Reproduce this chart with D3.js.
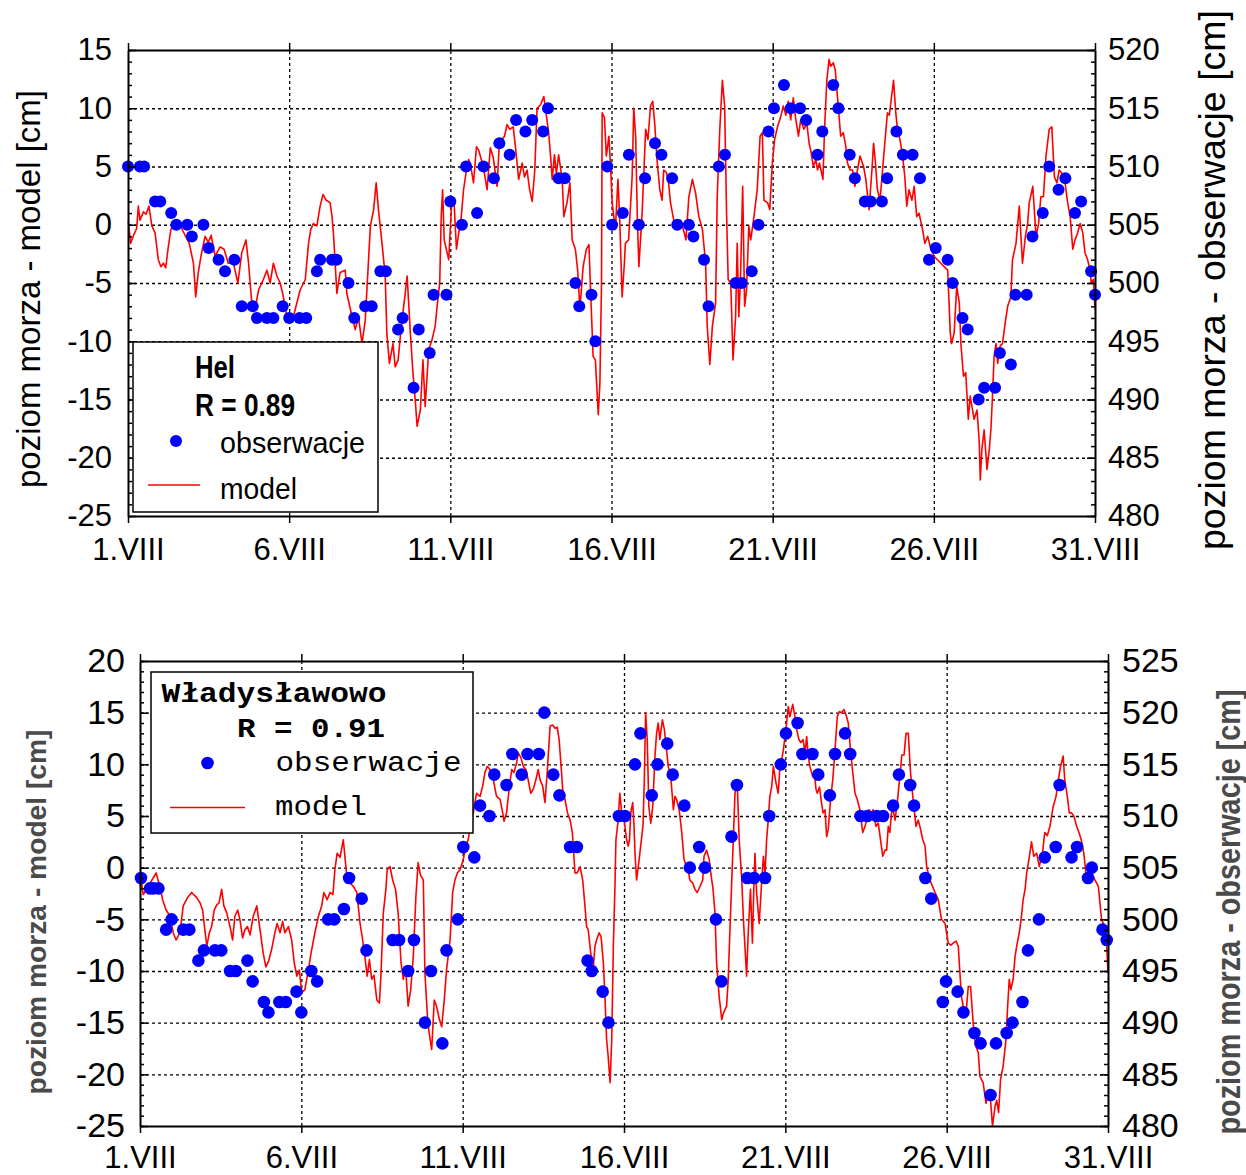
<!DOCTYPE html>
<html>
<head>
<meta charset="utf-8">
<script src="https://cdn.jsdelivr.net/npm/d3@7"></script>
<style>
  body { margin: 0; background: #fff; }
  text { font-family: "Liberation Sans", Arial, sans-serif; }
</style>
</head>
<body>
<svg id="chart" width="1246" height="1175"></svg>
<script>
// ---- shared axis values ----
const dayTicks = [1, 6, 11, 16, 21, 26, 31];
const dayLabels = ["1.VIII", "6.VIII", "11.VIII", "16.VIII", "21.VIII", "26.VIII", "31.VIII"];

// ---- Hel ----
const helLeftTicks = [15, 10, 5, 0, -5, -10, -15, -20, -25];
const helRightTicks = [520, 515, 510, 505, 500, 495, 490, 485, 480];
const helObsDay = [1.0, 1.37, 1.5, 1.84, 2.0, 2.34, 2.5, 2.84, 2.98, 3.34,
  3.5, 3.81, 4.01, 4.3, 4.53, 4.87, 5.0, 5.31, 5.51, 5.8,
  6.0, 6.32, 6.53, 6.86, 6.96, 7.33, 7.47, 7.84, 8.02, 8.36,
  8.56, 8.83, 9.0, 9.38, 9.52, 9.86, 10.02, 10.36, 10.48, 10.88,
  11.0, 11.36, 11.49, 11.83, 12.03, 12.35, 12.52, 12.84, 13.04, 13.33,
  13.54, 13.88, 14.03, 14.36, 14.55, 14.88, 15.0, 15.38, 15.5, 15.87,
  16.02, 16.35, 16.54, 16.85, 17.04, 17.35, 17.55, 17.88, 18.04, 18.4,
  18.54, 18.87, 19.01, 19.33, 19.52, 19.85, 20.04, 20.35, 20.56, 20.87,
  21.04, 21.35, 21.56, 21.85, 22.04, 22.39, 22.54, 22.88, 23.04, 23.39,
  23.55, 23.86, 24.04, 24.39, 24.55, 24.84, 25.04, 25.34, 25.57, 25.85,
  26.06, 26.43, 26.58, 26.89, 27.05, 27.39, 27.56, 27.9, 28.05, 28.39,
  28.53, 28.88, 29.06, 29.38, 29.58, 29.87, 30.08, 30.38, 30.57, 30.88, 31.0];
const helObsVal = [5, 5, 5, 2, 2, 1, 0, 0, -1, 0,
  -2, -3, -4, -3, -7, -7, -8, -8, -8, -7,
  -8, -8, -8, -4, -3, -3, -3, -5, -8, -7,
  -7, -4, -4, -9, -8, -14, -9, -11, -6, -6,
  2, 0, 5, 1, 5, 4, 7, 6, 9, 8,
  9, 8, 10, 4, 4, -5, -7, -6, -10, 5,
  0, 1, 6, 0, 4, 7, 6, 4, 0, 0,
  -1, -3, -7, 5, 6, -5, -5, -4, 0, 8,
  10, 12, 10, 10, 9, 6, 8, 12, 10, 6,
  4, 2, 2, 2, 4, 8, 6, 6, 4, -3,
  -2, -3, -5, -8, -9, -15, -14, -14, -11, -12,
  -6, -6, -1, 1, 5, 3, 4, 1, 2, -4, -6];
const helModelDay = [1.01, 1.08, 1.16, 1.27, 1.32, 1.37, 1.48, 1.56, 1.65, 1.74, 1.84, 1.94, 2.02, 2.10, 2.17, 2.25, 2.33, 2.41, 2.53, 2.61,
  2.77, 2.90, 3.03, 3.10, 3.18, 3.27, 3.39, 3.49, 3.58, 3.70, 3.86, 3.98, 4.11, 4.27, 4.41, 4.53, 4.66, 4.74, 4.84, 4.94,
  5.05, 5.20, 5.31, 5.41, 5.51, 5.62, 5.72, 5.80, 5.93, 6.03, 6.13, 6.34, 6.50, 6.60, 6.67, 6.75, 6.86, 6.96, 7.05, 7.15,
  7.27, 7.33, 7.38, 7.48, 7.58, 7.74, 7.79, 7.95, 8.05, 8.15, 8.26, 8.36, 8.52, 8.62, 8.70, 8.77, 8.88, 8.98, 9.03, 9.11,
  9.22, 9.29, 9.38, 9.48, 9.60, 9.66, 9.76, 9.84, 9.91, 9.97, 10.07, 10.15, 10.22, 10.33, 10.43, 10.53, 10.59, 10.67, 10.72, 10.76,
  10.81, 10.95, 11.05, 11.12, 11.19, 11.25, 11.33, 11.41, 11.50, 11.57, 11.64, 11.72, 11.81, 11.88, 11.96, 12.03, 12.14, 12.24, 12.33, 12.45,
  12.52, 12.68, 12.76, 12.84, 12.95, 13.02, 13.12, 13.23, 13.30, 13.38, 13.46, 13.54, 13.62, 13.69, 13.80, 13.90, 13.95, 14.05, 14.11, 14.16,
  14.23, 14.29, 14.36, 14.47, 14.52, 14.62, 14.71, 14.78, 14.88, 14.95, 15.02, 15.12, 15.22, 15.30, 15.35, 15.43, 15.50, 15.59, 15.64, 15.69,
  15.71, 15.78, 15.84, 15.92, 15.97, 16.02, 16.12, 16.20, 16.25, 16.33, 16.40, 16.43, 16.53, 16.64, 16.69, 16.75, 16.80, 16.85, 16.95, 17.06,
  17.13, 17.21, 17.28, 17.34, 17.42, 17.50, 17.57, 17.62, 17.70, 17.76, 17.83, 17.93, 18.04, 18.14, 18.23, 18.31, 18.40, 18.51, 18.61, 18.71,
  18.82, 18.92, 18.97, 19.05, 19.13, 19.23, 19.28, 19.36, 19.44, 19.51, 19.57, 19.62, 19.70, 19.77, 19.85, 19.90, 19.95, 20.00, 20.07, 20.13,
  20.19, 20.26, 20.32, 20.42, 20.52, 20.61, 20.68, 20.73, 20.84, 20.91, 20.99, 21.06, 21.15, 21.25, 21.33, 21.41, 21.48, 21.56, 21.64, 21.71,
  21.80, 21.87, 21.97, 22.06, 22.13, 22.18, 22.26, 22.34, 22.39, 22.45, 22.56, 22.61, 22.68, 22.75, 22.80, 22.88, 22.94, 23.01, 23.06, 23.11,
  23.19, 23.27, 23.32, 23.40, 23.48, 23.55, 23.63, 23.71, 23.82, 23.89, 23.99, 24.08, 24.13, 24.18, 24.25, 24.33, 24.41, 24.46, 24.56, 24.62,
  24.75, 24.82, 24.87, 24.95, 25.03, 25.10, 25.16, 25.23, 25.32, 25.39, 25.47, 25.54, 25.65, 25.72, 25.81, 25.91, 26.01, 26.11, 26.22, 26.32,
  26.43, 26.51, 26.55, 26.63, 26.71, 26.79, 26.84, 26.92, 26.99, 27.07, 27.13, 27.20, 27.25, 27.34, 27.41, 27.44, 27.49, 27.56, 27.65, 27.72,
  27.77, 27.82, 27.87, 27.93, 27.98, 28.06, 28.13, 28.20, 28.29, 28.39, 28.44, 28.55, 28.65, 28.75, 28.84, 28.91, 28.96, 29.07, 29.17, 29.25,
  29.32, 29.40, 29.48, 29.58, 29.66, 29.74, 29.82, 29.89, 29.98, 30.05, 30.15, 30.23, 30.31, 30.38, 30.46, 30.54, 30.62, 30.69, 30.77, 30.85,
  30.88, 30.95, 31.00];
const helModelVal = [0.3, -1.6, -1.0, -0.3, 1.6, 0.4, 1.1, 0.9, 1.6, -0.1, -0.7, -3.0, -3.6, -3.3, -3.7, -1.9, -0.4, -0.1, -0.4, 0,
  -0.9, -1.6, -3.3, -6.2, -4.1, -2.6, -1.0, -1.5, -0.9, -2.7, -1.9, -2.1, -3.3, -3.3, -5.0, -2.4, -1.3, -3.3, -6.7, -7.3,
  -5.6, -4.7, -3.9, -5.0, -3.3, -4.4, -5.0, -5.9, -7.9, -8.3, -7.9, -5.6, -4.7, -1.6, -0.4, 0.1, -0.1, 1.6, 2.6, 2.1,
  1.9, 0.7, -1.0, -5.9, -4.1, -3.9, -5.9, -7.9, -9.0, -7.9, -10.2, -8.2, -0.1, 1.3, 3.6, 1.3, -1.6, -4.4, -9.3, -11.9,
  -10.2, -12.2, -11.6, -8.7, -5.9, -4.4, -9.3, -12.7, -15.0, -17.3, -15.9, -11.6, -15.6, -10.7, -9.9, -8.7, -7.0, -5.0, 0.9, 3.0,
  -1.3, -3.0, 2.4, 1.7, -2.1, -0.9, 0.4, 3.0, 4.7, 5.6, 4.9, 3.6, 6.7, 6.4, 5.6, 4.9, 3.0, 6.6, 5.8, 3.3,
  7.0, 7.6, 8.6, 8.2, 8.4, 6.7, 3.9, 5.3, 4.1, 4.7, 3.0, 2.0, 4.7, 10.0, 10.3, 11.0, 10.0, 7.9, 5.9, 3.9,
  6.0, 4.4, 6.0, 3.9, 0.7, 1.9, 3.6, -1.3, -2.1, -3.9, -7.2, -3.6, -2.1, -1.7, -5.6, -11.3, -11.6, -16.3, -13.6, -5.0,
  9.6, 9.2, 5.9, 7.6, 5.0, 1.9, -0.4, 3.9, 0.9, -6.2, -3.3, -1.6, -1.3, 4.1, 10.0, 7.6, 0.7, -3.6, 1.0, 8.2,
  7.3, 10.2, 10.6, 8.7, 5.3, 3.0, 2.1, 4.7, 4.5, 3.9, 1.9, 0.4, -0.1, 0.4, -0.4, -1.3, 2.4, 3.9, 2.7, 0.7,
  -0.4, -3.3, -8.7, -12.0, -8.7, -6.7, 2.4, 8.2, 12.4, 10.2, 1.0, -4.7, -5.0, -11.6, -7.9, -1.6, -7.9, -4.7, 3.3, -7.0,
  -5.6, -0.1, -1.3, 0.7, 3.0, 7.6, 7.9, 2.1, 1.9, 1.3, 5.3, 7.3, 8.4, 9.3, 10.2, 9.4, 10.6, 9.0, 10.9, 9.2,
  7.6, 9.0, 8.2, 8.7, 7.0, 6.4, 5.0, 5.6, 4.7, 5.3, 3.9, 8.2, 12.4, 14.2, 13.6, 13.9, 13.3, 11.0, 9.3, 7.6,
  7.9, 6.7, 5.3, 4.7, 4.7, 3.3, 4.7, 5.9, 5.0, 3.9, 1.3, 4.7, 7.0, 5.6, 3.0, 2.1, 4.7, 6.4, 9.6, 9.4,
  12.4, 9.6, 8.2, 7.3, 5.9, 4.1, 1.6, 3.0, 2.1, 3.3, 0.7, 1.0, -0.4, -1.6, -1.0, -2.1, -2.7, -3.0, -3.3, -3.6,
  -3.9, -9.3, -10.2, -9.3, -5.3, -6.7, -10.2, -13.0, -12.7, -16.7, -14.7, -15.9, -16.7, -15.9, -18.7, -21.9, -19.3, -17.6, -21.0, -19.3,
  -17.6, -14.7, -11.3, -10.2, -11.9, -10.4, -10.2, -8.7, -7.0, -6.2, -3.0, -1.6, 1.6, -3.3, -1.0, 0.1, 1.9, 3.3, -1.0, 0.1,
  2.4, 2.4, 5.9, 8.2, 8.4, 4.1, 3.6, 4.7, 4.4, 4.1, 1.9, 0.7, -2.1, -1.3, -0.7, 0.1, -0.7, -2.4, -3.0, -3.9,
  -5.0, -4.7, -7.3];

// ---- Wladyslawowo ----
const wlaLeftTicks = [20, 15, 10, 5, 0, -5, -10, -15, -20, -25];
const wlaRightTicks = [525, 520, 515, 510, 505, 500, 495, 490, 485, 480];
const wlaObsDay = [1.03, 1.31, 1.41, 1.57, 1.81, 1.98, 2.34, 2.53, 2.81, 2.98,
  3.32, 3.52, 3.79, 3.97, 4.33, 4.49, 4.84, 4.98, 5.32, 5.52,
  5.85, 6.0, 6.31, 6.49, 6.83, 7.02, 7.32, 7.48, 7.87, 8.02,
  8.83, 9.03, 9.31, 9.49, 9.83, 10.02, 10.37, 10.5, 10.85, 11.02,
  11.36, 11.54, 11.83, 11.98, 12.36, 12.54, 12.83, 13.01, 13.36, 13.53,
  13.81, 14.0, 14.33, 14.54, 14.87, 15.0, 15.34, 15.52, 15.84, 16.03,
  16.34, 16.51, 16.86, 17.04, 17.34, 17.51, 17.87, 18.04, 18.33, 18.51,
  18.85, 19.02, 19.33, 19.5, 19.82, 20.03, 20.37, 20.5, 20.86, 21.02,
  21.38, 21.53, 21.84, 22.02, 22.38, 22.54, 22.85, 23.01, 23.33, 23.54,
  23.83, 24.03, 24.34, 24.52, 24.87, 24.99, 25.34, 25.52, 25.88, 25.98,
  26.34, 26.52, 26.86, 27.05, 27.36, 27.53, 27.86, 28.04, 28.35, 28.52,
  28.86, 29.04, 29.38, 29.5, 29.87, 30.04, 30.38, 30.5, 30.83, 30.96];
const wlaObsVal = [-1, -2, -2, -2, -6, -5, -6, -6, -9, -8,
  -8, -8, -10, -10, -9, -11, -13, -14, -13, -13,
  -12, -14, -10, -11, -5, -5, -4, -1, -3, -8,
  -7, -7, -10, -7, -15, -10, -17, -8, -5, 2,
  1, 6, 5, 9, 8, 11, 9, 11, 11, 15,
  9, 7, 2, 2, -9, -10, -12, -15, 5, 5,
  10, 13, 7, 10, 12, 9, 6, 0, 2, 0,
  -5, -11, 3, 8, -1, -1, -1, 5, 10, 13,
  14, 11, 11, 9, 7, 11, 13, 11, 5, 5,
  5, 5, 6, 9, 8, 6, -1, -3, -13, -11,
  -12, -14, -16, -17, -22, -17, -16, -15, -13, -8,
  -5, 1, 2, 8, 1, 2, -1, 0, -6, -7];
const wlaModelDay = [1.00, 1.05, 1.10, 1.21, 1.31, 1.41, 1.50, 1.56, 1.62, 1.70, 1.81, 1.93, 2.03, 2.12, 2.20, 2.26, 2.34, 2.47, 2.60, 2.76,
  2.86, 2.94, 3.01, 3.07, 3.15, 3.22, 3.30, 3.38, 3.45, 3.53, 3.60, 3.69, 3.79, 3.87, 3.94, 4.03, 4.10, 4.18, 4.25, 4.33,
  4.41, 4.51, 4.62, 4.72, 4.82, 4.90, 4.98, 5.08, 5.18, 5.25, 5.34, 5.42, 5.49, 5.60, 5.70, 5.78, 5.86, 5.94, 6.01, 6.11,
  6.22, 6.30, 6.42, 6.53, 6.63, 6.70, 6.80, 6.89, 6.98, 7.04, 7.11, 7.20, 7.30, 7.35, 7.42, 7.61, 7.72, 7.82, 7.90, 7.97,
  8.04, 8.11, 8.18, 8.25, 8.34, 8.42, 8.47, 8.54, 8.62, 8.66, 8.75, 8.83, 8.92, 9.00, 9.09, 9.16, 9.23, 9.31, 9.39, 9.47,
  9.55, 9.62, 9.69, 9.78, 9.83, 9.92, 9.99, 10.04, 10.12, 10.19, 10.28, 10.35, 10.43, 10.50, 10.61, 10.69, 10.76, 10.84, 10.92, 11.02,
  11.10, 11.17, 11.25, 11.33, 11.38, 11.43, 11.54, 11.62, 11.69, 11.76, 11.85, 11.95, 12.05, 12.16, 12.24, 12.28, 12.36, 12.44, 12.52, 12.59,
  12.67, 12.72, 12.80, 12.88, 12.96, 13.03, 13.11, 13.19, 13.27, 13.34, 13.40, 13.48, 13.55, 13.62, 13.71, 13.79, 13.86, 13.93, 13.99, 14.05,
  14.10, 14.17, 14.25, 14.33, 14.40, 14.48, 14.55, 14.64, 14.72, 14.79, 14.84, 14.89, 14.97, 15.05, 15.10, 15.15, 15.23, 15.29, 15.36, 15.41,
  15.46, 15.51, 15.57, 15.62, 15.67, 15.72, 15.75, 15.82, 15.87, 15.93, 15.98, 16.03, 16.08, 16.13, 16.17, 16.21, 16.27, 16.31, 16.34, 16.39,
  16.47, 16.55, 16.59, 16.63, 16.67, 16.72, 16.77, 16.83, 16.89, 16.96, 17.01, 17.06, 17.11, 17.19, 17.25, 17.32, 17.37, 17.45, 17.53, 17.58,
  17.63, 17.71, 17.79, 17.86, 17.94, 17.99, 18.04, 18.13, 18.20, 18.27, 18.36, 18.44, 18.48, 18.56, 18.64, 18.69, 18.76, 18.82, 18.87, 18.95,
  19.03, 19.08, 19.18, 19.23, 19.28, 19.34, 19.38, 19.44, 19.51, 19.57, 19.65, 19.70, 19.80, 19.85, 19.92, 19.98, 20.03, 20.06, 20.11, 20.19,
  20.27, 20.32, 20.37, 20.42, 20.47, 20.52, 20.58, 20.63, 20.71, 20.78, 20.84, 20.89, 20.94, 20.99, 21.04, 21.09, 21.14, 21.23, 21.30, 21.35,
  21.42, 21.48, 21.55, 21.61, 21.66, 21.71, 21.76, 21.85, 21.90, 21.95, 21.99, 22.06, 22.12, 22.17, 22.23, 22.28, 22.33, 22.40, 22.47, 22.54,
  22.61, 22.67, 22.74, 22.82, 22.88, 22.95, 23.02, 23.09, 23.16, 23.23, 23.31, 23.40, 23.47, 23.52, 23.59, 23.67, 23.72, 23.81, 23.88, 23.95,
  24.02, 24.09, 24.14, 24.19, 24.24, 24.29, 24.34, 24.40, 24.47, 24.56, 24.61, 24.68, 24.74, 24.81, 24.88, 24.96, 25.05, 25.12, 25.17, 25.26,
  25.33, 25.38, 25.48, 25.64, 25.74, 25.84, 25.95, 26.05, 26.13, 26.20, 26.29, 26.36, 26.41, 26.46, 26.51, 26.60, 26.67, 26.74, 26.80, 26.85,
  26.91, 26.98, 27.03, 27.13, 27.22, 27.29, 27.36, 27.42, 27.50, 27.55, 27.61, 27.67, 27.75, 27.84, 27.89, 27.94, 27.99, 28.06, 28.12, 28.17,
  28.25, 28.32, 28.37, 28.43, 28.48, 28.55, 28.63, 28.70, 28.79, 28.87, 28.97, 29.04, 29.12, 29.20, 29.30, 29.39, 29.46, 29.53, 29.61, 29.66,
  29.74, 29.80, 29.87, 29.94, 30.03, 30.10, 30.17, 30.25, 30.34, 30.42, 30.49, 30.60, 30.70, 30.80, 30.87, 30.96, 31.00];
const wlaModelVal = [-1.8, -1.5, -2.6, -2.1, -1.5, -1.0, -0.5, -1.2, -1.8, -3.1, -4.1, -4.7, -6.3, -7.0, -6.5, -5.7, -3.7, -2.9, -2.4, -2.9,
  -3.4, -4.1, -6.0, -7.6, -6.3, -5.7, -4.1, -3.6, -3.4, -2.1, -3.7, -4.4, -5.7, -7.0, -4.7, -4.1, -5.1, -6.8, -6.0, -5.7,
  -6.5, -4.7, -3.7, -6.0, -8.3, -9.6, -9.1, -7.9, -6.3, -5.4, -6.3, -5.2, -6.3, -5.7, -7.0, -9.2, -10.5, -9.9, -12.1, -11.8,
  -9.9, -8.3, -6.3, -4.7, -3.7, -2.4, -3.1, -2.4, -2.6, -0.2, 1.4, 1.0, 2.7, 1.1, -1.2, -1.8, -2.4, -5.4, -7.0, -8.6,
  -10.5, -8.9, -10.8, -10.4, -12.8, -13.1, -10.2, -4.4, -2.1, -0.2, 0.1, -1.2, -2.1, -4.4, -9.2, -10.8, -9.6, -13.4, -11.8, -8.6,
  -2.8, 0.5, -0.7, -1.2, -10.2, -15.0, -16.6, -17.6, -12.8, -13.4, -14.7, -15.4, -12.8, -9.9, -7.0, -2.4, -1.2, -0.5, -0.2, 0.8,
  2.1, 2.7, 4.3, 5.3, 6.3, 7.2, 6.9, 7.9, 9.2, 9.8, 9.5, 8.5, 6.9, 6.6, 5.3, 4.5, 5.3, 7.6, 9.5, 9.2,
  10.1, 11.1, 10.7, 9.8, 9.5, 8.5, 7.2, 7.6, 8.5, 9.5, 8.5, 7.9, 6.3, 9.2, 13.7, 13.8, 13.5, 13.6, 12.4, 9.8,
  7.6, 6.6, 5.3, 4.6, 3.4, -0.5, -0.5, 0.1, -1.2, -3.7, -5.7, -6.0, -8.3, -9.6, -7.6, -7.0, -6.3, -6.7, -9.2, -12.5,
  -16.6, -18.3, -20.8, -16.6, -7.6, -1.8, 2.7, 4.6, 7.2, 5.3, 5.3, 4.0, 2.7, 2.1, 2.7, 5.3, 6.3, 4.1, 1.4, -1.2,
  0.8, 3.0, 4.1, 8.5, 15.0, 12.4, 5.9, 4.3, 5.9, 10.8, 13.0, 14.0, 12.4, 14.3, 13.4, 11.4, 9.8, 8.8, 5.6, 6.9,
  6.6, 5.6, 3.4, 0.8, 0.1, -0.2, -1.2, -1.5, -2.1, -2.4, -1.8, -1.2, 1.1, 1.7, 0.8, -0.5, -2.1, -4.4, -9.2, -12.5,
  -14.7, -14.1, -13.4, -10.8, -6.3, -1.2, 2.1, 7.2, 8.2, 2.7, -1.2, -5.0, -10.5, -6.3, -2.1, -7.3, -1.2, 1.4, -2.4, -5.4,
  -1.2, 1.1, -0.7, 2.7, 4.6, 6.9, 7.9, 9.8, 8.2, 7.2, 10.1, 10.5, 11.4, 12.7, 14.0, 15.6, 14.6, 15.8, 14.6, 13.4,
  12.4, 12.1, 12.4, 11.1, 12.7, 10.8, 9.8, 8.8, 9.2, 7.6, 7.2, 7.8, 6.3, 5.3, 5.6, 3.0, 3.7, 6.6, 8.5, 11.4,
  14.6, 15.1, 15.0, 15.3, 14.8, 14.0, 11.4, 9.2, 7.2, 6.6, 5.6, 3.4, 4.0, 4.6, 5.6, 5.3, 5.6, 4.0, 4.3, 2.7,
  1.1, 1.7, 1.7, 4.0, 3.4, 5.3, 5.6, 4.6, 6.3, 9.2, 10.9, 10.9, 13.0, 13.0, 9.2, 6.6, 4.0, 4.6, 4.0, 2.7,
  2.1, 0.1, -1.2, -2.4, -3.1, -5.0, -5.4, -7.3, -7.5, -7.3, -7.1, -7.6, -10.2, -12.5, -13.4, -14.1, -11.5, -11.5, -14.1, -16.3,
  -17.3, -17.9, -20.2, -20.8, -22.8, -21.8, -22.5, -25.0, -23.1, -22.5, -23.7, -20.5, -19.2, -16.6, -13.4, -10.8, -11.8, -10.8, -8.6, -7.6,
  -6.3, -4.7, -3.1, -2.1, -0.5, 0.8, 2.5, 1.1, 1.4, 0.1, 1.4, 3.4, 3.1, 4.0, 5.9, 6.9, 8.5, 9.8, 10.8, 8.5,
  6.9, 5.3, 5.3, 5.0, 4.0, 3.4, 2.7, 1.4, -1.2, 0.1, -0.5, -1.2, -1.8, -5.0, -5.5, -7.6, -10.2];

const svg = d3.select('#chart');

function drawPanel(p) {
  const g = svg.append('g');
  const x = d3.scaleLinear().domain([1, 31]).range([p.left, p.right]);
  const y = d3.scaleLinear().domain([p.leftTicks[p.leftTicks.length - 1], p.leftTicks[0]]).range([p.bottom, p.top]);
  const yRight = d3.scaleLinear().domain([p.rightTicks[p.rightTicks.length - 1], p.rightTicks[0]]).range([p.bottom, p.top]);
  const w = p.right - p.left;
  const h = p.bottom - p.top;

  // dashed grid
  g.append('g')
    .attr('transform', `translate(0,${p.bottom})`)
    .call(d3.axisBottom(x).tickValues(dayTicks.slice(1, -1)).tickSize(-h).tickFormat(''))
    .call(a => a.select('.domain').remove())
    .selectAll('line').attr('stroke', '#000').attr('stroke-width', 1.3).attr('stroke-dasharray', '3,3');
  g.append('g')
    .attr('transform', `translate(${p.left},0)`)
    .call(d3.axisLeft(y).tickValues(p.leftTicks.slice(1, -1)).tickSize(-w).tickFormat(''))
    .call(a => a.select('.domain').remove())
    .selectAll('line').attr('stroke', '#000').attr('stroke-width', 1.3).attr('stroke-dasharray', '3,3');

  // model line
  const line = d3.line()
    .x((d, i) => x(p.modelDay[i]))
    .y(d => y(d));
  g.append('path')
    .datum(p.modelVal)
    .attr('d', line)
    .attr('fill', 'none')
    .attr('stroke', '#ff0000')
    .attr('stroke-width', 1.6)
    .attr('stroke-linejoin', 'round');

  // observations
  g.append('g').selectAll('circle')
    .data(p.obsVal)
    .join('circle')
    .attr('cx', (d, i) => x(p.obsDay[i]))
    .attr('cy', d => y(d))
    .attr('r', p.dot)
    .attr('fill', '#0000ff');

  // minor y ticks
  const minor = d3.range(y.domain()[0], y.domain()[1] + 1, 1);
  g.append('g')
    .attr('transform', `translate(${p.left},0)`)
    .call(d3.axisLeft(y).tickValues(minor).tickSize(-4).tickFormat(''))
    .call(a => a.select('.domain').remove());
  g.append('g')
    .attr('transform', `translate(${p.right},0)`)
    .call(d3.axisRight(y).tickValues(minor).tickSize(-4).tickFormat(''))
    .call(a => a.select('.domain').remove());

  // frame + labelled axes (plain hyphen for negatives, as in the original)
  const plain = d => String(d);
  const bottomAxis = g.append('g')
    .attr('transform', `translate(0,${p.bottom})`)
    .call(d3.axisBottom(x).tickValues(dayTicks).tickFormat((d, i) => dayLabels[i])
      .tickSize(7).tickSizeOuter(0).tickPadding(p.xPad));
  g.append('g')
    .attr('transform', `translate(0,${p.top})`)
    .call(d3.axisTop(x).tickValues(dayTicks).tickFormat('').tickSize(7).tickSizeOuter(0));
  const leftAxis = g.append('g')
    .attr('transform', `translate(${p.left},0)`)
    .call(d3.axisLeft(y).tickValues(p.leftTicks).tickFormat(plain).tickSize(-8).tickSizeOuter(0).tickPadding(p.yPad));
  const rightAxis = g.append('g')
    .attr('transform', `translate(${p.right},0)`)
    .call(d3.axisRight(yRight).tickValues(p.rightTicks).tickFormat(plain).tickSize(-8).tickSizeOuter(0).tickPadding(p.yPadR));

  g.selectAll('.domain').attr('stroke', '#000').attr('stroke-width', 2);
  g.selectAll('.tick line').filter(function () { return !this.getAttribute('stroke-dasharray'); })
    .attr('stroke', '#000').attr('stroke-width', 1.5);
  [bottomAxis, leftAxis, rightAxis].forEach(a => a.selectAll('text')
    .attr('fill', '#000')
    .style('font-family', '"Liberation Sans", Arial, sans-serif')
    .style('font-size', p.tickFont + 'px'));
  bottomAxis.selectAll('text').style('font-size', p.xFont + 'px');

  // axis titles
  g.append('text')
    .attr('transform', `translate(${p.titleL.x},${p.titleL.y}) rotate(-90)`)
    .attr('text-anchor', 'middle')
    .attr('textLength', p.titleL.len).attr('lengthAdjust', 'spacingAndGlyphs')
    .attr('fill', p.titleColor).attr('font-weight', p.titleWeight)
    .style('font-size', p.titleL.size + 'px')
    .text('poziom morza - model [cm]');
  g.append('text')
    .attr('transform', `translate(${p.titleR.x},${p.titleR.y}) rotate(-90)`)
    .attr('text-anchor', 'middle')
    .attr('textLength', p.titleR.len).attr('lengthAdjust', 'spacingAndGlyphs')
    .attr('fill', p.titleColor).attr('font-weight', p.titleWeight)
    .style('font-size', p.titleR.size + 'px')
    .text('poziom morza - obserwacje [cm]');

  // legend
  const L = p.legend;
  const lg = g.append('g').style('font-family', L.font);
  lg.append('rect')
    .attr('x', L.x).attr('y', L.y).attr('width', L.w).attr('height', L.h)
    .attr('fill', '#fff').attr('stroke', '#000').attr('stroke-width', 1.5);
  L.rows.forEach(r => {
    lg.append('text')
      .attr('x', r.x).attr('y', r.y)
      .attr('font-weight', r.bold ? 'bold' : 'normal')
      .attr('textLength', r.len).attr('lengthAdjust', 'spacingAndGlyphs')
      .style('font-size', r.size + 'px')
      .style('font-family', L.font)
      .text(r.text);
  });
  lg.append('circle').attr('cx', L.dot[0]).attr('cy', L.dot[1]).attr('r', p.dot).attr('fill', '#0000ff');
  lg.append('line')
    .attr('x1', L.line[0]).attr('x2', L.line[1]).attr('y1', L.line[2]).attr('y2', L.line[2])
    .attr('stroke', '#ff0000').attr('stroke-width', 1.6);
}

drawPanel({
  left: 128, right: 1095, top: 50, bottom: 516,
  leftTicks: helLeftTicks, rightTicks: helRightTicks,
  obsDay: helObsDay, obsVal: helObsVal, modelDay: helModelDay, modelVal: helModelVal,
  dot: 6, tickFont: 31, xFont: 31, xPad: 15, yPad: 16, yPadR: 13,
  titleColor: '#000', titleWeight: 'normal',
  titleL: { x: 40, y: 289, len: 398, size: 33 },
  titleR: { x: 1225, y: 280, len: 540, size: 37 },
  legend: {
    x: 133, y: 342, w: 245, h: 170,
    font: '"Liberation Sans", Arial, sans-serif',
    dot: [176, 441], line: [148, 200, 485],
    rows: [
      { text: 'Hel', x: 195, y: 378, bold: true, size: 32, len: 40 },
      { text: 'R = 0.89', x: 195, y: 416, bold: true, size: 32, len: 100 },
      { text: 'obserwacje', x: 220, y: 453, bold: false, size: 30, len: 145 },
      { text: 'model', x: 220, y: 499, bold: false, size: 30, len: 77 }
    ]
  }
});

drawPanel({
  left: 140, right: 1108, top: 661, bottom: 1126,
  leftTicks: wlaLeftTicks, rightTicks: wlaRightTicks,
  obsDay: wlaObsDay, obsVal: wlaObsVal, modelDay: wlaModelDay, modelVal: wlaModelVal,
  dot: 6.3, tickFont: 34, xFont: 31, xPad: 13, yPad: 15, yPadR: 14,
  titleColor: '#4a4a4a', titleWeight: 'bold',
  titleL: { x: 46, y: 912, len: 365, size: 28 },
  titleR: { x: 1240, y: 912, len: 445, size: 33 },
  legend: {
    x: 151, y: 672, w: 322, h: 161,
    font: '"Liberation Mono", "Courier New", monospace',
    dot: [207.5, 763], line: [170, 245, 807.5],
    rows: [
      { text: 'Władysławowo', x: 161.5, y: 701.5, bold: true, size: 28, len: 225 },
      { text: 'R = 0.91', x: 237, y: 737, bold: true, size: 28, len: 148 },
      { text: 'obserwacje', x: 275.5, y: 771, bold: false, size: 28, len: 186 },
      { text: 'model', x: 275, y: 815, bold: false, size: 28, len: 92 }
    ]
  }
});
</script>
</body>
</html>
